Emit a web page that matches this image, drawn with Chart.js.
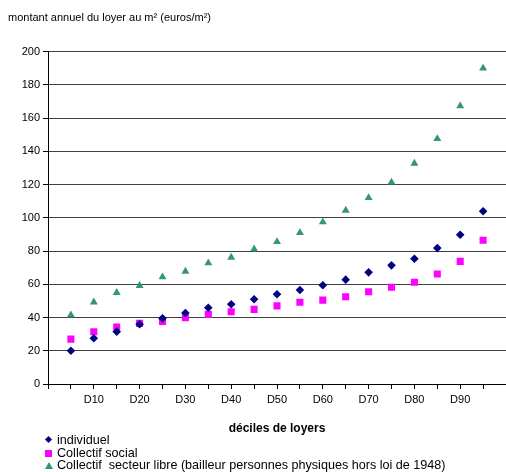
<!DOCTYPE html>
<html lang="fr">
<head>
  <meta charset="UTF-8">
  <title>Loyer annuel au m² par décile</title>
  <script src="https://cdn.jsdelivr.net/npm/chart.js"></script>
  <style>
    body { margin: 0; background: #fff; font-family: "Liberation Sans", Arial, sans-serif; }
    #wrap { position: relative; width: 506px; height: 472px; }
    #box { position: absolute; left: 0; top: 0; width: 506px; height: 440px; }
    #legend { position: absolute; left: 44px; top: 434px; font-size: 12.6px; line-height: 12.5px; color: #000; }
    #legend div { display: flex; align-items: center; height: 12.5px; }
    #legend span.t { white-space: pre; }
    .mk { display: inline-block; width: 11px; height: 12px; position: relative; margin-right: 2px; }
    .dia::after { content: ""; position: absolute; left: 2px; top: 3px; width: 5px; height: 5px; background: #000080; transform: rotate(45deg); }
    .sq::after { content: ""; position: absolute; left: 1px; top: 3px; width: 7px; height: 7px; background: #ff00ff; }
    .tri::after { content: ""; position: absolute; left: 1px; top: 3px; width: 0; height: 0; border-left: 4px solid transparent; border-right: 4px solid transparent; border-bottom: 7px solid #339966; }
  </style>
</head>
<body>
<div id="wrap">
  <div id="box"><canvas id="c" width="506" height="440"></canvas></div>
  <div id="legend">
    <div><span class="mk dia"></span><span class="t">individuel</span></div>
    <div><span class="mk sq"></span><span class="t">Collectif social</span></div>
    <div><span class="mk tri"></span><span class="t">Collectif  secteur libre (bailleur personnes physiques hors loi de 1948)</span></div>
  </div>
</div>
<script>
  // déciles (positions sur l'axe) et valeurs
  const deciles = [5, 10, 15, 20, 25, 30, 35, 40, 45, 50, 55, 60, 65, 70, 75, 80, 85, 90, 95];
  const individuel = [20, 27.5, 31.5, 36, 39.5, 42.7, 45.9, 48, 51, 54, 56.6, 59.4, 62.8, 67.2, 71.4, 75.4, 81.8, 89.8, 104];
  const collectifSocial = [27, 31.5, 34.3, 36.5, 37.7, 39.9, 41.9, 43.5, 44.9, 47, 49.2, 50.5, 52.5, 55.5, 58.2, 61.2, 66.2, 73.8, 86.5];
  const collectifLibre = [41.5, 49.3, 55, 59.2, 64.4, 67.8, 72.8, 76.2, 81.2, 85.6, 91, 97.5, 104.5, 112.1, 121.4, 132.8, 147.6, 167.3, 190];
  const xLabels = ['D10', 'D20', 'D30', 'D40', 'D50', 'D60', 'D70', 'D80', 'D90'];

  const pts = arr => arr.map((v, i) => ({ x: deciles[i], y: v }));

  new Chart(document.getElementById('c').getContext('2d'), {
    type: 'scatter',
    data: {
      datasets: [
        { label: 'individuel', data: pts(individuel), pointStyle: 'rectRot', pointRadius: 4.3, backgroundColor: '#000080', borderColor: '#000080', borderWidth: 0 },
        { label: 'Collectif social', data: pts(collectifSocial), pointStyle: 'rect', pointRadius: 5, backgroundColor: '#ff00ff', borderColor: '#ff00ff', borderWidth: 0 },
        { label: 'Collectif  secteur libre (bailleur personnes physiques hors loi de 1948)', data: pts(collectifLibre), pointStyle: 'triangle', pointRadius: 4.6, backgroundColor: '#339966', borderColor: '#339966', borderWidth: 0 }
      ]
    },
    options: {
      responsive: false,
      animation: false,
      layout: { autoPadding: false, padding: { left: 8, right: 0, top: 0, bottom: 0 } },
      plugins: {
        legend: { display: false },
        tooltip: { enabled: false },
        title: {
          display: true,
          text: 'montant annuel du loyer au m² (euros/m²)',
          align: 'start',
          color: '#000',
          font: { family: '"Liberation Sans", Arial, sans-serif', size: 11, weight: 'normal' },
          padding: { top: 11, bottom: 27.5 }
        }
      },
      scales: {
        x: {
          type: 'linear',
          min: 0, max: 100,
          afterFit: s => { s.height = 56; s.paddingLeft = 0; s.paddingRight = 0; },
          ticks: {
            stepSize: 5,
            autoSkip: false,
            maxRotation: 0,
            color: '#000',
            padding: 4,
            font: { family: '"Liberation Sans", Arial, sans-serif', size: 11 },
            callback: v => xLabels.includes('D' + v) ? 'D' + v : ''
          },
          grid: { drawOnChartArea: false, drawTicks: true, tickLength: 5, color: '#000' },
          border: { display: true, color: '#000', width: 1 },
          title: {
            display: true,
            text: 'déciles de loyers',
            color: '#000',
            font: { family: '"Liberation Sans", Arial, sans-serif', size: 12, weight: 'bold' },
            padding: { top: 4, bottom: 4 }
          }
        },
        y: {
          min: 0, max: 200,
          afterFit: s => { s.width = 40; },
          ticks: {
            stepSize: 20,
            color: '#000',
            padding: 3,
            font: { family: '"Liberation Sans", Arial, sans-serif', size: 11 }
          },
          grid: { color: '#404040', lineWidth: 1, drawTicks: true, tickLength: 5, tickColor: '#000' },
          border: { display: true, color: '#000', width: 1 }
        }
      }
    }
  });
</script>
</body>
</html>
